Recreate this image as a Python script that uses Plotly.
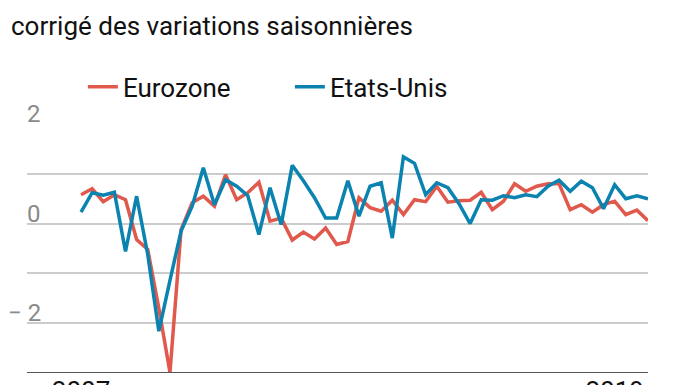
import plotly.graph_objects as go

# Quarterly GDP growth (%), 2007Q1 .. 2019Q4
quarters = [2007 + i / 4 for i in range(52)]
eurozone = [0.58, 0.70, 0.44, 0.58, 0.48, -0.32, -0.52, -1.70, -2.99,
            -0.12, 0.42, 0.55, 0.35, 0.98, 0.48, 0.62, 0.83, 0.05,
            0.11, -0.33, -0.17, -0.31, -0.09, -0.42, -0.36, 0.52, 0.32,
            0.25, 0.47, 0.18, 0.48, 0.44, 0.75, 0.43, 0.46, 0.47, 0.63,
            0.28, 0.45, 0.80, 0.65, 0.75, 0.80, 0.80, 0.28, 0.38, 0.23,
            0.38, 0.45, 0.18, 0.27, 0.06]
etats_unis = [0.23, 0.62, 0.57, 0.63, -0.56, 0.55, -0.62, -2.16, -1.14,
              -0.15, 0.35, 1.12, 0.38, 0.88, 0.75, 0.56, -0.22, 0.72,
              -0.02, 1.17, 0.86, 0.52, 0.11, 0.11, 0.86, 0.15, 0.75,
              0.82, -0.29, 1.34, 1.21, 0.58, 0.82, 0.72, 0.40, 0.00, 0.48,
              0.47, 0.56, 0.52, 0.58, 0.54, 0.75, 0.87, 0.65, 0.85, 0.72,
              0.30, 0.78, 0.50, 0.56, 0.50]
y_labels_vals = [2, 0, -2]
y_labels_text = ["2", "0", "\u2212 2"]
x_tick_vals = [2007, 2019]
x_tick_text = ["2007", "2019"]

RED = "#e0594c"
BLUE = "#0b83b0"
FONT = "Roboto, 'Liberation Sans', sans-serif"

fig = go.Figure()
fig.add_trace(go.Scatter(x=quarters, y=eurozone, mode="lines", name="Eurozone",
                         line=dict(color=RED, width=3.5)))
fig.add_trace(go.Scatter(x=quarters, y=etats_unis, mode="lines", name="Etats-Unis",
                         line=dict(color=BLUE, width=3.5)))

# baseline
fig.add_shape(type="line", xref="paper", yref="y", x0=0, x1=1, y0=-3, y1=-3,
              line=dict(color="#555555", width=2), layer="above")

for v, t in zip(y_labels_vals, y_labels_text):
    fig.add_annotation(x=0, xref="paper", y=v, yref="y", text=t, showarrow=False,
                       xanchor="right", yanchor="bottom", xshift=16, yshift=-6,
                       font=dict(size=24, color="#8a8a8a", family=FONT))

fig.add_annotation(x=0, xref="paper", y=1, yref="paper", text="corrigé des variations saisonnières",
                   showarrow=False, xanchor="left", yanchor="top", xshift=-18, yshift=116 - 1,
                   font=dict(size=26, color="#111111", family=FONT))

# the page adds an 8px body margin, so the figure is laid out 8px smaller
fig.update_layout(
    width=680, height=377,
    margin=dict(l=19, r=40, t=116, b=12, autoexpand=False),
    paper_bgcolor="white", plot_bgcolor="white",
    font=dict(family=FONT, color="#111111"),
    showlegend=True,
    legend=dict(orientation="h", x=0.09, xanchor="left", y=1.055, yanchor="bottom",
                font=dict(size=26, color="#111111", family=FONT),
                entrywidth=162, entrywidthmode="pixels",
                bgcolor="rgba(0,0,0,0)"),
    xaxis=dict(range=[2007 - 4.86 / 4, 2007 + 51 / 4], tickvals=x_tick_vals, ticktext=x_tick_text,
               showgrid=False, zeroline=False, showline=False, ticks="", automargin=False,
               tickfont=dict(size=26, color="#111111", family=FONT)),
    yaxis=dict(range=[-3, 2], dtick=1, showgrid=True, gridcolor="#cccccc", gridwidth=1.5,
               zeroline=False, showline=False, showticklabels=False, ticks="", automargin=False),
)

fig.write_html("out.html")
